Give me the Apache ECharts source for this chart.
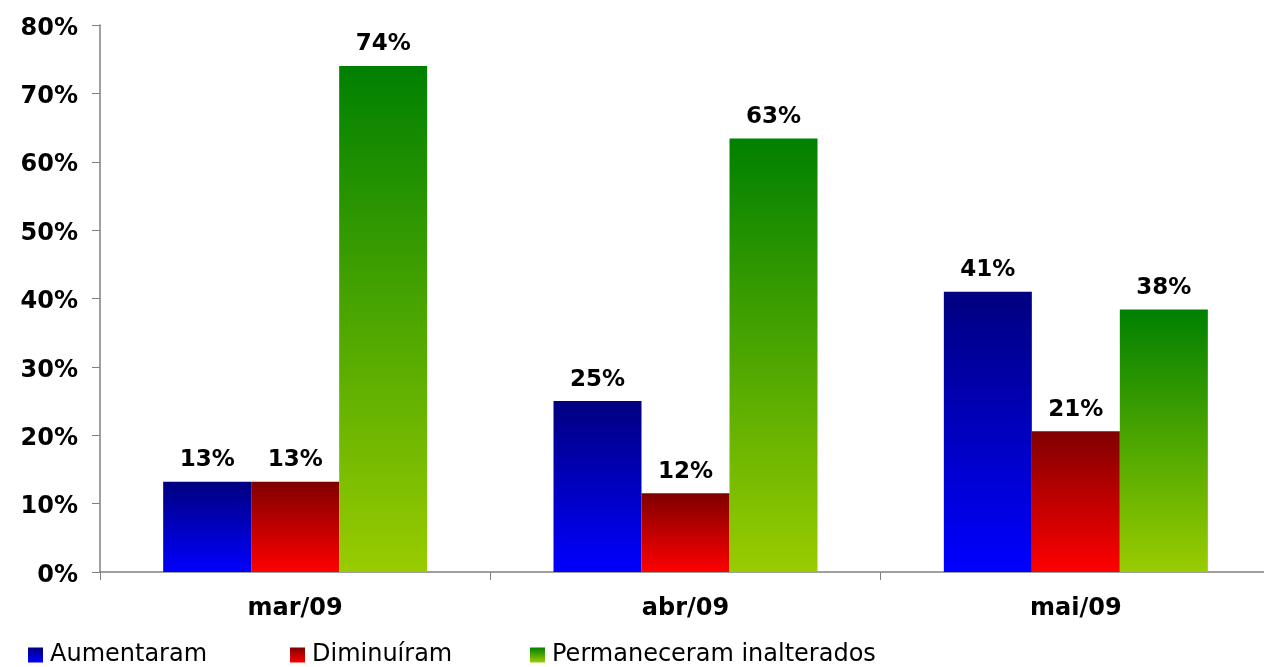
<!DOCTYPE html>
<html><head><meta charset="utf-8">
<script src="https://cdn.jsdelivr.net/npm/echarts@6/dist/echarts.min.js"></script>
<style>html,body{margin:0;padding:0;background:#fff;overflow:hidden;width:1264px;height:667px}#c{width:1280px;height:667px}</style>
</head><body><div id="c"></div>
<script>
var categories = ['mar/09', 'abr/09', 'mai/09'];
var seriesNames = ['Aumentaram', 'Diminuíram', 'Permaneceram inalterados'];
var aumentaram = [13.2, 25.0, 41.0];
var diminuiram = [13.2, 11.5, 20.6];
var permaneceram = [74.0, 63.4, 38.4];
var yTicks = [0, 10, 20, 30, 40, 50, 60, 70, 80];

var gradTop = ['#000080', '#800000', '#008000'];
var gradBottom = ['#0000ff', '#ff0000', '#99cc00'];
var FONT = 'DejaVu Sans';

function grad(i) {
  return new echarts.graphic.LinearGradient(0, 0, 0, 1, [
    {offset: 0, color: gradTop[i]}, {offset: 1, color: gradBottom[i]}
  ]);
}
var values = [aumentaram, diminuiram, permaneceram];
var series = values.map(function (v, i) {
  return {
    name: seriesNames[i], type: 'bar', data: v,
    barWidth: 88, barGap: '0%',
    itemStyle: {color: grad(i)},
    label: {show: true, position: 'top', distance: 10, color: '#000',
      fontFamily: FONT, fontWeight: 'bold', fontSize: 23,
      formatter: function (p) { return Math.round(p.value) + '%'; }}
  };
});
var legendLeft = [28, 290, 530];
var legends = seriesNames.map(function (n, i) {
  return {data: [n], left: legendLeft[i], top: 643, padding: 0, itemWidth: 15, itemHeight: 15,
    itemGap: 0, icon: 'rect',
    textStyle: {fontFamily: FONT, fontSize: 24, color: '#000', padding: [0, 0, 0, 2]}};
});
var chart = echarts.init(document.getElementById('c'));
chart.setOption({
  animation: false,
  backgroundColor: '#fff',
  grid: {left: 100, top: 25, width: 1171, height: 547, containLabel: false},
  legend: legends,
  xAxis: {type: 'category', data: categories,
    axisLine: {lineStyle: {color: '#808080', width: 1.5}},
    axisTick: {show: true, length: 8, lineStyle: {color: '#808080'}},
    axisLabel: {fontFamily: FONT, fontWeight: 'bold', fontSize: 24, color: '#000', margin: 25}},
  yAxis: {type: 'value', min: yTicks[0], max: yTicks[yTicks.length - 1], interval: 10,
    splitLine: {show: false},
    axisLine: {show: true, lineStyle: {color: '#808080', width: 1.5}},
    axisTick: {show: true, length: 8, lineStyle: {color: '#808080'}},
    axisLabel: {margin: 22, formatter: '{a|{value}%}',
      rich: {a: {fontFamily: FONT, fontWeight: 'bold', fontSize: 24, color: '#000', padding: [7, 0, 0, 0]}}}},
  series: series
});
</script></body></html>
